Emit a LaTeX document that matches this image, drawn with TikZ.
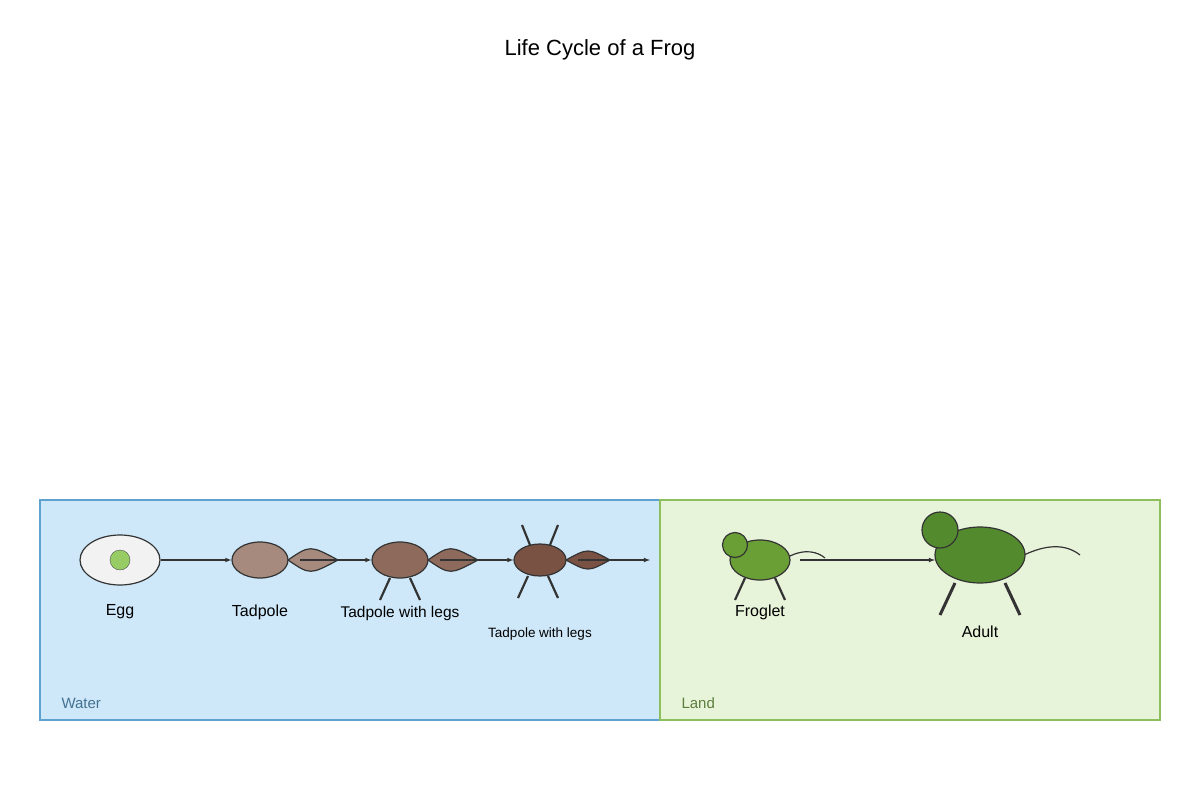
\documentclass[tikz,border=0pt]{standalone}
\usepackage{fontspec}
\setmainfont{Liberation Sans}
\usetikzlibrary{shapes.geometric}
\begin{document}
\begin{tikzpicture}[x=1pt,y=-1pt,
  ln/.style={draw=black!80,line width=1.2pt},
  arr/.style={draw=black!80,line width=1.1pt,-latex},
  leg/.style={draw=black!80,line width=2.2pt},
  lbl/.style={font=\fontsize{16}{18}\selectfont},
  tail/.style={ln}]
\definecolor{wfill}{HTML}{CFE8F9}\definecolor{wline}{HTML}{5FA2D0}
\definecolor{lfill}{HTML}{E8F4DA}\definecolor{lline}{HTML}{8DC05C}
\useasboundingbox (0,0) rectangle (1200,800);
\node[font=\fontsize{22}{26}\selectfont] (title) at (600,50) {Life Cycle of a Frog};
\draw[fill=wfill,draw=wline,line width=1.2pt] (40,500) rectangle (660,720);
\draw[fill=lfill,draw=lline,line width=1.2pt] (660,500) rectangle (1160,720);
\node[anchor=west,text=wline!70!black,font=\fontsize{15}{18}\selectfont] (water) at (58,703) {Water};
\node[anchor=west,text=lline!65!black,font=\fontsize{15}{18}\selectfont] (land) at (678,703) {Land};
% egg
\node[ellipse,draw=black!80,line width=1.2pt,fill=black!5,minimum width=80pt,minimum height=50pt,inner sep=0] (egg) at (120,560) {};
\node[circle,draw=black!70,minimum size=20pt,inner sep=0,fill={rgb,255:red,151;green,204;blue,100}] (yolk) at (120,560) {};
% tadpole
\node[ellipse,draw=black!80,line width=1.2pt,fill={rgb,255:red,165;green,138;blue,125},minimum width=56pt,minimum height=36pt,inner sep=0] (tad) at (260,560) {};
\draw[tail,fill={rgb,255:red,165;green,138;blue,125}] (288,560) .. controls (310,545) .. (338,560) .. controls (310,575) .. (288,560);
\coordinate (t1) at (300,560);
% tadpole with legs
\node[ellipse,draw=black!80,line width=1.2pt,fill={rgb,255:red,142;green,106;blue,92},minimum width=56pt,minimum height=36pt,inner sep=0] (tl) at (400,560) {};
\draw[tail,fill={rgb,255:red,142;green,106;blue,92}] (428,560) .. controls (450,545) .. (478,560) .. controls (450,575) .. (428,560);
\draw[leg] (390,578) -- (380,600) (410,578) -- (420,600);
\coordinate (t2) at (440,560);
% tadpole with 4 legs
\node[ellipse,draw=black!80,line width=1.2pt,fill={rgb,255:red,122;green,82;blue,68},minimum width=52pt,minimum height=32pt,inner sep=0] (tl2) at (540,560) {};
\draw[tail,fill={rgb,255:red,122;green,82;blue,68}] (566,560) .. controls (588,548) .. (610,560) .. controls (588,572) .. (566,560);
\draw[leg] (530,545) -- (522,525) (550,545) -- (558,525) (528,576) -- (518,598) (548,576) -- (558,598);
\coordinate (t3) at (578,560);
\coordinate (e3) at (650,560);
% arrows
\draw[arr] (egg) -- (tad);
\draw[arr] (t1) -- (tl);
\draw[arr] (t2) -- (tl2);
\draw[arr] (t3) -- (e3);
% froglet
\draw[ln] (788,557) .. controls (805,548) and (818,552) .. (825,558);
\node[ellipse,draw=black!80,line width=1.2pt,fill={rgb,255:red,106;green,159;blue,53},minimum width=60pt,minimum height=40pt,inner sep=0] (frog) at (760,560) {};
\node[circle,draw=black!80,line width=1.2pt,fill={rgb,255:red,106;green,159;blue,53},minimum size=25pt,inner sep=0] (fhead) at (735,545) {};
\draw[leg] (745,578) -- (735,600) (775,578) -- (785,600);
\coordinate (ft) at (800,560);
% adult
\draw[ln] (1024,555) .. controls (1045,545) and (1065,543) .. (1080,555);
\node[ellipse,draw=black!80,line width=1.2pt,fill={rgb,255:red,83;green,138;blue,46},minimum width=90pt,minimum height=56pt,inner sep=0] (adult) at (980,555) {};
\node[circle,draw=black!80,line width=1.2pt,fill={rgb,255:red,83;green,138;blue,46},minimum size=36pt,inner sep=0] (ahead) at (940,530) {};
\draw[leg,line width=3pt] (955,583) -- (940,615) (1005,583) -- (1020,615);
\coordinate (ae) at (935,560);
\draw[arr] (ft) -- (ae);
% labels
\node[lbl] (l1) at (120,612) {Egg};
\node[lbl] (l2) at (260,612) {Tadpole};
\node[font=\fontsize{15.5}{18}\selectfont] (l3) at (400,613) {Tadpole with legs};
\node[font=\fontsize{13.5}{16}\selectfont] (l4) at (540,634) {Tadpole with legs};
\node[lbl] (l5) at (760,612) {Froglet};
\node[lbl] (l6) at (980,632) {Adult};
\end{tikzpicture}
\end{document}
